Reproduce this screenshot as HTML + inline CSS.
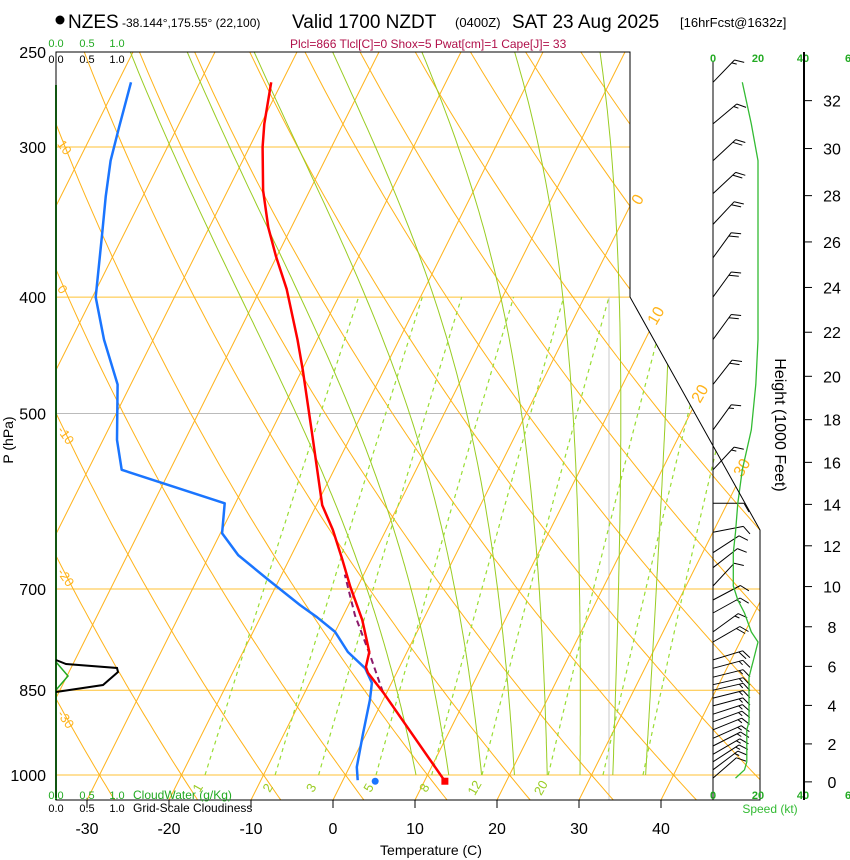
<!DOCTYPE html>
<html><head><meta charset="utf-8"><style>
html,body{margin:0;padding:0;background:#fff;}
svg{display:block;font-family:"Liberation Sans",Arial,sans-serif;}
</style></head><body>
<svg id="chart" width="850" height="860" viewBox="0 0 850 860" xmlns="http://www.w3.org/2000/svg">
<defs><clipPath id="plotclip"><polygon points="56,52 630,52 630,297 760,530 760,800 56,800"/></clipPath></defs>
<g>
<circle cx="60" cy="20" r="4.5" fill="#000"/>
<text x="68" y="28" font-size="19">NZES</text>
<text x="122" y="27" font-size="12">-38.144°,175.55° (22,100)</text>
<text x="292" y="28" font-size="19">Valid 1700 NZDT</text>
<text x="455" y="27" font-size="13">(0400Z)</text>
<text x="512" y="28" font-size="19">SAT 23 Aug 2025</text>
<text x="680" y="27" font-size="13">[16hrFcst@1632z]</text>
</g>
<text x="290" y="48" font-size="12" fill="#b0104a">Plcl=866 Tlcl[C]=0 Shox=5 Pwat[cm]=1 Cape[J]= 33</text>
<g id="grid" clip-path="url(#plotclip)"></g>
<g id="series"></g>
<polygon points="56,52 630,52 630,297 760,530 760,800 56,800" fill="none" stroke="#000" stroke-width="1"/>
<g id="axes"></g>
</svg>
<script>
const NS='http://www.w3.org/2000/svg';
// ---- data ----
const pressureTicks=[1000,850,700,500,400,300,250];
const tempTicks=[-30,-20,-10,0,10,20,30,40];
const tempP=[1012,854,822,813,790,743,697,662,625,596,526,460,434,394,370,350,326,300,287,265];
const tempT=[12.5,-0.4,-3.5,-4.1,-4.6,-7.4,-10.9,-13.5,-16.5,-19.3,-24.4,-29.9,-32.4,-36.8,-40.1,-42.8,-45.7,-48.4,-49.6,-51.3];
const dewP=[1010,985,923,866,838,815,790,760,739,722,688,656,629,594,557,526,473,434,400,354,330,308,289,265];
const dewT=[1.8,0.9,-0.4,-1.6,-2.4,-4.1,-7.2,-10,-13.1,-15.9,-21.3,-26.5,-29.8,-31.3,-45.9,-48.3,-51.6,-56,-59.6,-62.7,-64.5,-66.1,-67.1,-68.4];
const parcelP=[853,795,736,681];
const parcelT=[-0.5,-4.3,-8.6,-12.3];
const sfcDew={p:1012,t:4.0};
const windP=[265,287,308,328,348,371,400,434,473,516,557,594,628,653,672,696,715,733,760,775,802,815,829,841,850,863,876,890,903,917,932,946,961,975,990,1006];
const windSpd=[13,17,20,20,20,20,20,20,19,17,13,11,10,9,9,9,11,14,17,20,18,17,16,16,16,16,16,16,16,15,15,15,15,15,14,10];
const windDir=[44,50,47,47,43,36,36,36,38,36,43,90,79,57,52,43,62,61,54,60,73,75,76,77,77,76,75,72,70,68,66,63,60,57,53,49];
const mixRatios=[1,2,3,5,8,12,20,30,40];
const mixLabels=['1','2','3','5','8','12','20'];
const moistStarts=[8.6,12.6,16.6,20.6,24.6,28.6,32.6,36.6];
const heightTicks=[0,2,4,6,8,10,12,14,16,18,20,22,24,26,28,30,32];
const dryLabels=[10,0,-10,-20,-30];
const isoLabels=[0,10,20,30];
// ---- scales ----
const yP=p=>775+521.6*Math.log(p/1000);
const xT=(T,y)=>333+8.2*T+0.5*(800-y);
const xS=s=>713+2.25*s;
const grid=document.getElementById('grid'),series=document.getElementById('series'),axes=document.getElementById('axes');
function mk(tag,attrs,parent){const e=document.createElementNS(NS,tag);for(const k in attrs)e.setAttribute(k,attrs[k]);parent.appendChild(e);return e;}
function pathFrom(pts){return pts.map((q,i)=>(i?'L':'M')+q[0].toFixed(1)+','+q[1].toFixed(1)).join('');}
const OR='#ffb31a',GR='#99cc22';
// isobars
pressureTicks.forEach(p=>{if(p===250)return;const y=yP(p);
 const l=mk('line',{x1:56,x2:760,y1:y,y2:y,stroke:p===500?'#bbbbbb':'#ffc233','stroke-width':1},grid);
 });
const gl=mk('line',{x1:609,x2:609,y1:297,y2:800,stroke:'#c8c8c8','stroke-width':1},grid);

// isotherms
for(let T=-110;T<=40;T+=10){const l=mk('line',{x1:xT(T,800),y1:800,x2:xT(T,52),y2:52,stroke:OR,'stroke-width':1},grid);
 }
// dry adiabats
for(let th=-40;th<=200;th+=10){const pts=[];for(let p=1050;p>=240;p-=10){const T=(th+273.15)*Math.pow(p/1000,0.286)-273.15;const y=yP(p);pts.push([xT(T,y),y]);}
 const e=mk('path',{d:pathFrom(pts),fill:'none',stroke:OR,'stroke-width':1},grid);
 }
// moist adiabats
function es(T){return 6.112*Math.exp(17.67*T/(T+243.5));}
moistStarts.forEach(T0=>{let T=T0+273.15,p=1050;
 // start from 1000 value, extend slightly below
 const pts=[];p=1000;
 while(p>=245){const y=yP(p);pts.push([xT(T-273.15,y),y]);const e=es(T-273.15);const rs=0.622*e/(p-e);
  const g=(287*T+2.5e6*rs)/(p*(1004+2.5e6*2.5e6*rs*0.622/(287*T*T)));T-=g*5;p-=5;}
 const e=mk('path',{d:pathFrom(pts),fill:'none',stroke:GR,'stroke-width':1},grid);
 });
// mixing ratio
function tdW(w,p){const e=w*p/(622+w);const l=Math.log(e/6.112);return 243.5*l/(17.67-l);}
mixRatios.forEach(w=>{const pts=[];for(let p=1000;p>=400;p-=10){const y=yP(p);pts.push([xT(tdW(w,p),y),y]);}
 const e=mk('path',{d:pathFrom(pts),fill:'none',stroke:'#99dd33','stroke-width':1.2,'stroke-dasharray':'4,4'},grid);
 });
mixLabels.forEach(s=>{const w=parseFloat(s);const x=xT(tdW(w,1000),785)-2;
 const t=mk('text',{x:x,y:792,'font-size':13,fill:'#99cc22','text-anchor':'middle',transform:`rotate(-60 ${x} 788)`},series);t.textContent=s;
 });
// dry adiabat labels left
dryLabels.forEach(th=>{const K=th+273.15;let best=0;for(let q=250;q<=1050;q+=1){const T=K*Math.pow(q/1000,0.286)-273.15;if(Math.abs(xT(T,yP(q))-64)<1){best=q;break;}}
 if(!best)return;const y=yP(best);const t=mk('text',{x:60,y:y+4,'font-size':13,fill:OR,transform:`rotate(55 60 ${y})`},series);t.textContent=th;
 });
// isotherm labels right
const isoPos={0:[640,206],10:[656,326],20:[700,404],30:[742,478]};
isoLabels.forEach(T=>{const q=isoPos[T];const t=mk('text',{x:q[0],y:q[1],'font-size':16,fill:OR,transform:`rotate(-60 ${q[0]} ${q[1]})`},series);t.textContent=T;
 });
// cloud panel
const cl=mk('line',{x1:56,y1:85,x2:56,y2:800,stroke:'#22aa22','stroke-width':2},series);
const cp=mk('polyline',{points:'56,660 66,664 117,668 118,672 103,685 56,692',fill:'none',stroke:'#000','stroke-width':2},series);
const cg=mk('polyline',{points:'56,662 68,676 56,690',fill:'none',stroke:'#22aa22','stroke-width':1.5},series);
// profiles
function prof(P,Tarr,attrs,name){const pts=P.map((p,i)=>{const y=yP(p);return[xT(Tarr[i],y),y];});const e=mk('path',Object.assign({d:pathFrom(pts),fill:'none'},attrs),series);return pts;}
prof(parcelP,parcelT,{stroke:'#8b1a6b','stroke-width':2,'stroke-dasharray':'6,4'},'parcel-trace');
prof(dewP,dewT,{stroke:'#1a75ff','stroke-width':2.5,'stroke-linejoin':'round'},'dewpoint-profile');
const tp=prof(tempP,tempT,{stroke:'#ff0000','stroke-width':2.5,'stroke-linejoin':'round'},'temperature-profile');
const sd=mk('rect',{x:tp[0][0]-3.5,y:tp[0][1]-3.5,width:7,height:7,fill:'#ff0000'},series);
const dy=yP(sfcDew.p);const dd=mk('circle',{cx:xT(sfcDew.t,dy),cy:dy,r:3.5,fill:'#1a75ff'},series);
// wind panel
const ws=mk('line',{x1:713,y1:62,x2:713,y2:800,stroke:'#000','stroke-width':1},axes);
windP.forEach((p,i)=>{const y=yP(p);const a=windDir[i]*Math.PI/180;const L=31;const ux=Math.sin(a),uy=-Math.cos(a);
 const ex=713+L*ux,ey=y+L*uy;let d=`M713,${y.toFixed(1)}L${ex.toFixed(1)},${ey.toFixed(1)}`;
 const ta=a+Math.PI/3;const tx=Math.sin(ta),ty=-Math.cos(ta);let s=Math.round(windSpd[i]/5)*5;let k=0;
 while(s>=10){const bx=ex-k*4*ux,by=ey-k*4*uy;d+=`M${bx.toFixed(1)},${by.toFixed(1)}l${(10*tx).toFixed(1)},${(10*ty).toFixed(1)}`;s-=10;k++;}
 if(s>=5){const bx=ex-k*4*ux,by=ey-k*4*uy;d+=`M${bx.toFixed(1)},${by.toFixed(1)}l${(5*tx).toFixed(1)},${(5*ty).toFixed(1)}`;}
 const b=mk('path',{d:d,fill:'none',stroke:'#000','stroke-width':1},series);});
const sp=windP.map((p,i)=>[xS(windSpd[i]),yP(p)]);
const sl=mk('path',{d:pathFrom(sp),fill:'none',stroke:'#33bb33','stroke-width':1.3},series);
[[0,713],[20,758],[40,803],[6,848]].forEach(([v,x])=>{[62,799].forEach(y=>{const t=mk('text',{x:x,y:y,'font-size':11,'font-weight':'bold',fill:'#22aa22','text-anchor':'middle'},axes);t.textContent=v;});});
const st=mk('text',{x:770,y:813,'font-size':12,fill:'#33bb33','text-anchor':'middle'},axes);st.textContent='Speed (kt)';
// height axis
const ha=mk('line',{x1:804,y1:52,x2:804,y2:800,stroke:'#000','stroke-width':2},axes);
heightTicks.forEach(h=>{const m=h*1000*0.3048;const p=1013.25*Math.pow(1-6.5e-3*m/288.15,5.256);const y=yP(p);
 const l=mk('line',{x1:804,x2:812,y1:y,y2:y,stroke:'#000'},axes);
 const t=mk('text',{x:832,y:y+6,'font-size':16,'text-anchor':'middle'},axes);t.textContent=h;});
const ht=mk('text',{x:775,y:425,'font-size':16,'text-anchor':'middle',transform:'rotate(90 775 425)'},axes);ht.textContent='Height (1000 Feet)';
// pressure labels
pressureTicks.forEach(p=>{const t=mk('text',{x:46,y:yP(p)+6,'font-size':16,'text-anchor':'end'},axes);t.textContent=p;});
const pt=mk('text',{x:13,y:440,'font-size':14,'text-anchor':'middle',transform:'rotate(-90 13 440)'},axes);pt.textContent='P (hPa)';
// temperature axis
tempTicks.forEach(T=>{const x=xT(T,800);const l=mk('line',{x1:x,x2:x,y1:800,y2:808,stroke:'#000'},axes);
 const t=mk('text',{x:x,y:834,'font-size':16,'text-anchor':'middle'},axes);t.textContent=T;});
const tt=mk('text',{x:431,y:855,'font-size':14,'text-anchor':'middle'},axes);tt.textContent='Temperature (C)';
// cloud scale labels
[['0.0',56],['0.5',87],['1.0',117]].forEach(([s,x])=>{
 [[47,'#22aa22'],[63,'#000'],[799,'#22aa22'],[812,'#000']].forEach(([y,c])=>{const t=mk('text',{x:x,y:y,'font-size':11,fill:c,'text-anchor':'middle'},axes);t.textContent=s;});});
const c1=mk('text',{x:133,y:799,'font-size':12,fill:'#22aa22'},axes);c1.textContent='CloudWater (g/Kg)';
const c2=mk('text',{x:133,y:812,'font-size':12,fill:'#000'},axes);c2.textContent='Grid-Scale Cloudiness';
</script>
</body></html>
